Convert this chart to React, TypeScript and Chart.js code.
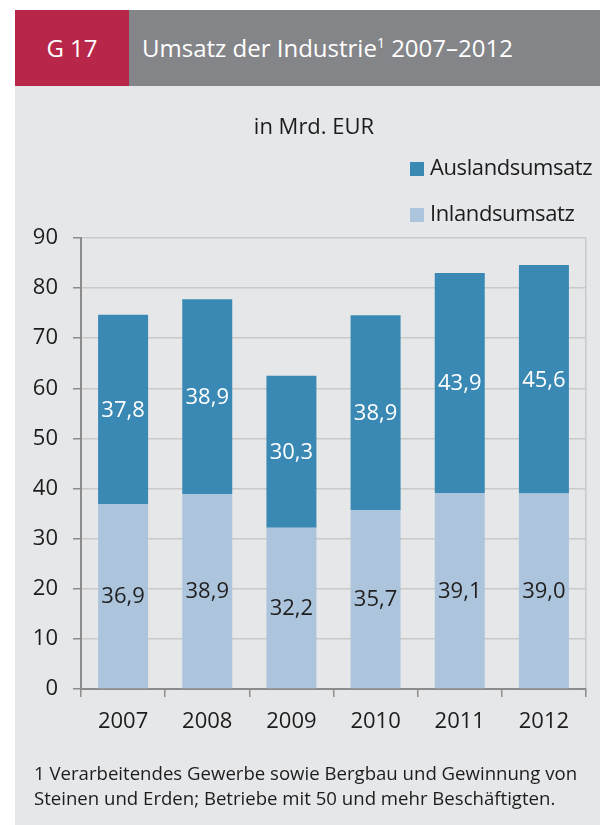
import React, { useEffect, useRef } from "react";
import { Chart, registerables } from "chart.js";

Chart.register(...registerables);

const years = ["2007", "2008", "2009", "2010", "2011", "2012"];
const inlandValues = [36.9, 38.9, 32.2, 35.7, 39.1, 39.0];
const auslandValues = [37.8, 38.9, 30.3, 38.9, 43.9, 45.6];
const seriesNames = ["Inlandsumsatz", "Auslandsumsatz"];
const seriesColors = ["#adc5dc", "#3a89b4"];
const valueLabelColors = ["#1f1f1f", "#ffffff"];
const yMin = 0;
const yMax = 90;
const yStep = 10;

const FONT = "'Open Sans', 'Noto Sans', sans-serif";
const TEXT = "#1c1c1c";

const fmt = (v: number) => v.toFixed(1).replace(".", ",");

const valueLabelsPlugin = {
  id: "valueLabels",
  afterDatasetsDraw(chart: any) {
    const ctx = chart.ctx;
    chart.data.datasets.forEach((ds: any, di: number) => {
      const meta = chart.getDatasetMeta(di);
      meta.data.forEach((bar: any, i: number) => {
        const p = bar.getProps(["x", "y", "base"], true);
        ctx.save();
        ctx.font = `22px ${FONT}`;
        ctx.fillStyle = valueLabelColors[di];
        ctx.textAlign = "center";
        ctx.textBaseline = "middle";
        ctx.fillText(fmt(ds.data[i]), p.x, (p.y + p.base) / 2 + 1);
        ctx.restore();
      });
    });
  },
};

export default function App() {
  const canvasRef = useRef<HTMLCanvasElement | null>(null);

  useEffect(() => {
    const canvas = canvasRef.current;
    if (!canvas) return;
    const chart = new Chart(canvas, {
      type: "bar",
      data: {
        labels: years,
        datasets: [
          {
            label: seriesNames[0],
            data: inlandValues,
            backgroundColor: seriesColors[0],
            categoryPercentage: 1,
            barPercentage: 0.594,
          },
          {
            label: seriesNames[1],
            data: auslandValues,
            backgroundColor: seriesColors[1],
            categoryPercentage: 1,
            barPercentage: 0.594,
          },
        ],
      },
      options: {
        animation: false,
        responsive: false,
        devicePixelRatio: 1,
        layout: { padding: { left: 0, right: 14, top: 238, bottom: 86 } },
        plugins: {
          legend: { display: false },
          tooltip: { enabled: false },
        },
        scales: {
          x: {
            stacked: true,
            offset: true,
            afterFit: (scale: any) => {
              scale.height = 50;
            },
            grid: {
              offset: true,
              drawOnChartArea: true,
              color: (c: any) =>
                c.index === undefined || c.index >= years.length ? "#c9c9c9" : "rgba(0,0,0,0)",
              tickColor: "#8c8c8c",
              tickLength: 8,
              lineWidth: 1.5,
            },
            border: { color: "#8c8c8c", width: 2 },
            ticks: {
              color: TEXT,
              font: { family: FONT, size: 22 },
              padding: 12,
            },
          },
          y: {
            stacked: true,
            min: yMin,
            max: yMax,
            afterFit: (scale: any) => {
              scale.width = 81;
            },
            grid: {
              color: "#c9c9c9",
              tickColor: "#8c8c8c",
              tickLength: 8,
              lineWidth: 1.5,
            },
            border: { color: "#8c8c8c", width: 2 },
            ticks: {
              stepSize: yStep,
              color: TEXT,
              font: { family: FONT, size: 22 },
              padding: 15,
            },
          },
        },
      },
      plugins: [valueLabelsPlugin],
    });
    return () => chart.destroy();
  }, []);

  const abs = (s: React.CSSProperties): React.CSSProperties => ({ position: "absolute", ...s });

  return (
    <div style={abs({ left: 0, top: 0, width: 600, height: 825, background: "#ffffff", overflow: "hidden", fontFamily: FONT, color: TEXT })}>
      <div style={abs({ left: 15, top: 10, width: 585, height: 815, background: "#e6e7e9" })} />
      <div style={abs({ left: 15, top: 10, width: 114, height: 76, background: "#b8274a" })} />
      <div style={abs({ left: 129, top: 10, width: 471, height: 76, background: "#848589" })} />
      <div style={abs({ left: 15, top: 36, width: 114, textAlign: "center", fontSize: 24, lineHeight: "24px", color: "#fff", fontWeight: 500 })}>
        G 17
      </div>
      <div style={abs({ left: 142, top: 36, whiteSpace: "nowrap", fontSize: 24, lineHeight: "24px", color: "#fff", fontWeight: 500 })}>
        Umsatz der Industrie
        <span style={{ fontSize: 14, position: "relative", top: -9 }}>1</span> 2007–2012
      </div>
      <canvas ref={canvasRef} width={600} height={825} style={abs({ left: 0, top: 0, width: 600, height: 825 })} />
      <div style={abs({ left: 214, top: 114, width: 200, textAlign: "center", whiteSpace: "nowrap", fontSize: 22, lineHeight: "22px" })}>
        in Mrd. EUR
      </div>
      {[1, 0].map((si, k) => (
        <div key={si} style={abs({ left: 410, top: 155 + k * 46, whiteSpace: "nowrap", fontSize: 22, lineHeight: "22px", letterSpacing: -0.4 })}>
          <span style={{ display: "inline-block", width: 14, height: 14, background: seriesColors[si], marginRight: 6, verticalAlign: "-1px" }} />
          {seriesNames[si]}
        </div>
      ))}
      <div style={abs({ left: 34, top: 760, width: 566, fontSize: 18.6, lineHeight: "25px", whiteSpace: "nowrap" })}>
        1 Verarbeitendes Gewerbe sowie Bergbau und Gewinnung von
        <br />
        Steinen und Erden; Betriebe mit 50 und mehr Beschäftigten.
      </div>
    </div>
  );
}
